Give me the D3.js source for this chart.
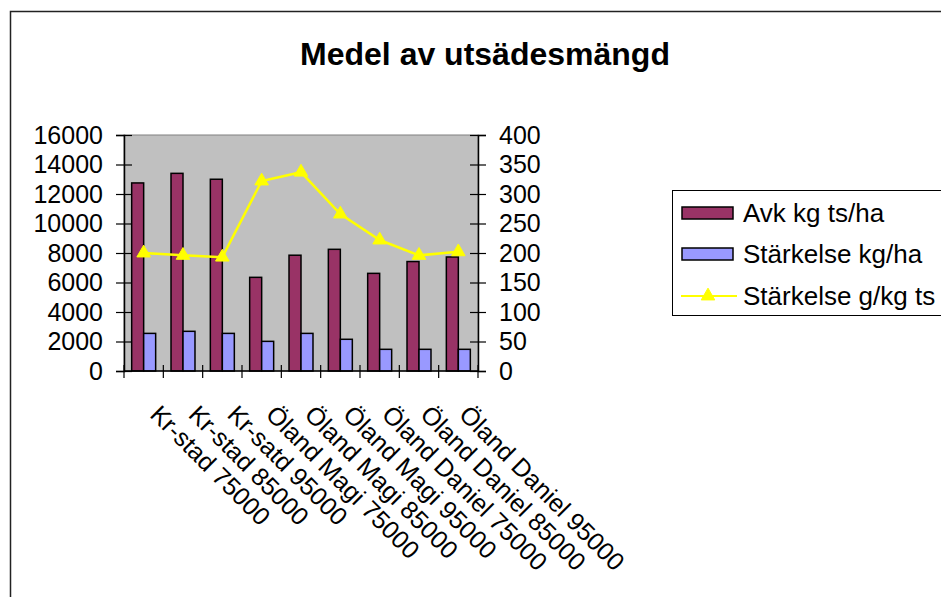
<!DOCTYPE html>
<html>
<head>
<meta charset="utf-8">
<script src="https://cdn.jsdelivr.net/npm/d3@7"></script>
<style>
  body { margin: 0; background: #fff; }
  svg { display: block; font-family: "Liberation Sans", Arial, sans-serif; }
</style>
</head>
<body>
<div id="chart"></div>
<script>
// Data
var categories = ["Kr-stad 75000", "Kr-stad 85000", "Kr-satd 95000",
  "Öland Magi 75000", "Öland Magi 85000", "Öland Magi 95000",
  "Öland Daniel 75000", "Öland Daniel 85000", "Öland Daniel 95000"];
var avkValues = [12750, 13400, 13000, 6350, 7850, 8250, 6620, 7420, 7730];
var starkelseValues = [2550, 2690, 2550, 2010, 2550, 2150, 1470, 1470, 1470];
var starkelseGkg = [200, 196, 193, 322, 337, 266, 222, 196, 202];
var leftTicks = [0, 2000, 4000, 6000, 8000, 10000, 12000, 14000, 16000];
var rightTicks = [0, 50, 100, 150, 200, 250, 300, 350, 400];
var seriesNames = ["Avk kg ts/ha", "Stärkelse kg/ha", "Stärkelse g/kg ts"];

var svgWidth = 941, svgHeight = 597;
var plot = { left: 124, right: 478, top: 135, bottom: 371 };
var colors = { avk: "#993366", st: "#9999FF", line: "#FFFF00" };

var svg = d3.select("#chart").append("svg")
  .attr("width", svgWidth)
  .attr("height", svgHeight);

// outer chart frame
svg.append("rect")
  .attr("x", 10.5).attr("y", 11.5)
  .attr("width", 1000).attr("height", 700)
  .attr("fill", "#fff")
  .attr("stroke", "#222")
  .attr("stroke-width", 1.5);

// title
svg.append("text")
  .attr("x", 485).attr("y", 65)
  .attr("text-anchor", "middle")
  .attr("font-size", 32)
  .attr("font-weight", "bold")
  .text("Medel av utsädesmängd");

// scales
var x0 = d3.scaleBand().domain(categories).range([plot.left, plot.right]);
var x1 = d3.scaleBand().domain(["avk", "st"]).range([0, x0.bandwidth()]).paddingOuter(0.64);
var yLeft = d3.scaleLinear().domain([0, 16000]).range([plot.bottom, plot.top]);
var yRight = d3.scaleLinear().domain([0, 400]).range([plot.bottom, plot.top]);

// plot area
svg.append("rect")
  .attr("x", plot.left).attr("y", plot.top)
  .attr("width", plot.right - plot.left).attr("height", plot.bottom - plot.top)
  .attr("fill", "#C0C0C0")
  .attr("stroke", "#808080");

// bars
var groups = svg.selectAll(".cat")
  .data(categories)
  .enter().append("g")
  .attr("transform", d => `translate(${x0(d)},0)`);

groups.append("rect")
  .attr("x", x1("avk"))
  .attr("y", (d, i) => yLeft(avkValues[i]))
  .attr("width", x1.bandwidth())
  .attr("height", (d, i) => plot.bottom - yLeft(avkValues[i]))
  .attr("fill", colors.avk)
  .attr("stroke", "#000")
  .attr("stroke-width", 1.5);

groups.append("rect")
  .attr("x", x1("st"))
  .attr("y", (d, i) => yLeft(starkelseValues[i]))
  .attr("width", x1.bandwidth())
  .attr("height", (d, i) => plot.bottom - yLeft(starkelseValues[i]))
  .attr("fill", colors.st)
  .attr("stroke", "#000")
  .attr("stroke-width", 1.5);

// line series on the right axis
var line = d3.line()
  .x((d, i) => x0(categories[i]) + x0.bandwidth() / 2)
  .y(d => yRight(d));

svg.append("path")
  .datum(starkelseGkg)
  .attr("d", line)
  .attr("fill", "none")
  .attr("stroke", colors.line)
  .attr("stroke-width", 2.5);

var tri = d3.symbol().type(d3.symbolTriangle).size(80);
svg.selectAll(".marker")
  .data(starkelseGkg)
  .enter().append("path")
  .attr("d", tri)
  .attr("transform", (d, i) => `translate(${x0(categories[i]) + x0.bandwidth() / 2},${yRight(d)})`)
  .attr("fill", colors.line)
  .attr("stroke", colors.line)
  .attr("stroke-width", 1);

// left axis
var leftAxis = d3.axisLeft(yLeft).tickValues(leftTicks).tickFormat(d3.format("d"))
  .tickSize(8).tickPadding(13);
var gL = svg.append("g")
  .attr("transform", `translate(${plot.left},0)`)
  .call(leftAxis);
gL.selectAll(".tick line").attr("x1", 8);

// right axis
var rightAxis = d3.axisRight(yRight).tickValues(rightTicks).tickFormat(d3.format("d"))
  .tickSize(8).tickPadding(13);
var gR = svg.append("g")
  .attr("transform", `translate(${plot.right},0)`)
  .call(rightAxis);
gR.selectAll(".tick line").attr("x1", -8);

[gL, gR].forEach(function(g) {
  g.select(".domain").attr("stroke", "#000").attr("stroke-width", 1.5);
  g.selectAll(".tick line").attr("stroke", "#000").attr("stroke-width", 1.2);
  g.selectAll(".tick text")
    .attr("font-size", 25)
    .attr("font-family", "Liberation Sans, Arial, sans-serif")
    .attr("fill", "#000");
});

// category axis
svg.append("line")
  .attr("x1", plot.left).attr("x2", plot.right)
  .attr("y1", plot.bottom).attr("y2", plot.bottom)
  .attr("stroke", "#000").attr("stroke-width", 1.5);

var bounds = categories.map(d => x0(d)).concat([plot.right]);
svg.selectAll(".ctick")
  .data(bounds)
  .enter().append("line")
  .attr("x1", d => d).attr("x2", d => d)
  .attr("y1", plot.bottom - 6).attr("y2", plot.bottom + 7)
  .attr("stroke", "#000").attr("stroke-width", 1.2);

svg.selectAll(".clabel")
  .data(categories)
  .enter().append("text")
  .attr("transform", (d, i) => `translate(${x0(d) + x0.bandwidth() / 2 + 5 - i * 0.7},${plot.bottom + 45}) rotate(45)`)
  .attr("font-size", 25)
  .text(d => d);

// legend
var legend = svg.append("g");
legend.append("rect")
  .attr("x", 672.5).attr("y", 190.5)
  .attr("width", 300).attr("height", 125)
  .attr("fill", "#fff")
  .attr("stroke", "#000");

var rowsY = [213, 254, 296];
legend.append("rect")
  .attr("x", 682).attr("y", rowsY[0] - 6)
  .attr("width", 51).attr("height", 12)
  .attr("fill", colors.avk).attr("stroke", "#000").attr("stroke-width", 1.5);
legend.append("rect")
  .attr("x", 682).attr("y", rowsY[1] - 6)
  .attr("width", 51).attr("height", 12)
  .attr("fill", colors.st).attr("stroke", "#000").attr("stroke-width", 1.5);
legend.append("line")
  .attr("x1", 681).attr("x2", 737)
  .attr("y1", rowsY[2]).attr("y2", rowsY[2])
  .attr("stroke", colors.line).attr("stroke-width", 2);
legend.append("path")
  .attr("d", tri)
  .attr("transform", `translate(708,${rowsY[2]})`)
  .attr("fill", colors.line).attr("stroke", colors.line);

legend.selectAll(".ltext")
  .data(seriesNames)
  .enter().append("text")
  .attr("x", 743)
  .attr("y", (d, i) => rowsY[i])
  .attr("dy", "0.35em")
  .attr("font-size", 26)
  .text(d => d);
</script>
</body>
</html>
